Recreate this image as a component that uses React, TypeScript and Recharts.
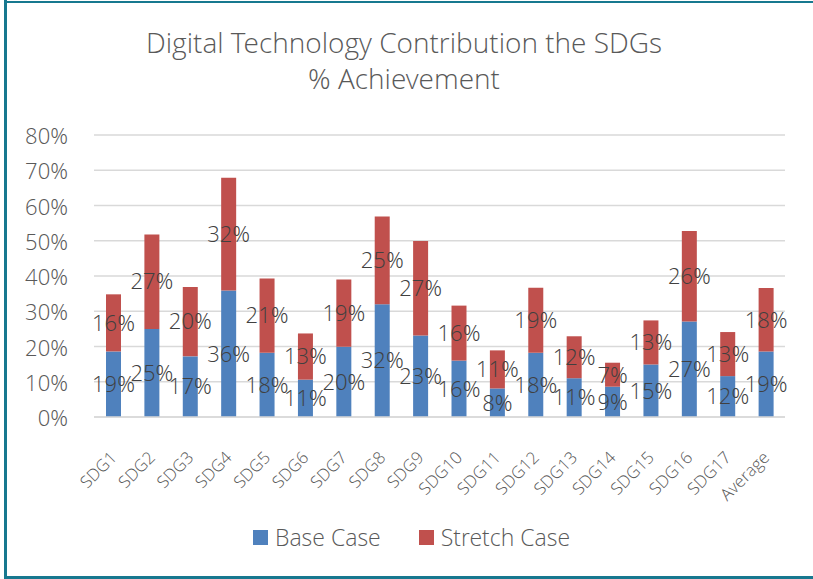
import React from "react";
import {
  BarChart,
  Bar,
  XAxis,
  YAxis,
  CartesianGrid,
  LabelList,
} from "recharts";

// Values, in percent
const categories = [
  "SDG1", "SDG2", "SDG3", "SDG4", "SDG5", "SDG6", "SDG7", "SDG8", "SDG9",
  "SDG10", "SDG11", "SDG12", "SDG13", "SDG14", "SDG15", "SDG16", "SDG17", "Average",
];
const baseCase = [
  18.6, 25.0, 17.2, 35.9, 18.2, 10.6, 19.9, 32.0, 23.1,
  16.0, 8.1, 18.2, 11.0, 8.6, 14.9, 27.1, 11.6, 18.6,
];
const stretchCase = [
  16.2, 26.8, 19.7, 32.0, 21.1, 13.1, 19.1, 24.9, 26.8,
  15.6, 10.8, 18.5, 11.9, 6.8, 12.5, 25.7, 12.5, 18.0,
];
const yTicks = [0, 10, 20, 30, 40, 50, 60, 70, 80];

const data = categories.map((name, i) => ({
  name,
  base: baseCase[i],
  stretch: stretchCase[i],
}));

const BLUE = "#4F81BD";
const RED = "#C0504D";
const BORDER = "#17788f";
const FONT = "'Open Sans Light', 'Open Sans', 'Noto Sans', sans-serif";

const pct = (v: any) => `${Math.round(Number(v))}%`;

function XTick({ x, y, payload }: any) {
  return (
    <text
      x={x}
      y={y + 29}
      transform={`rotate(-45, ${x}, ${y + 29})`}
      textAnchor="end"
      dominantBaseline="central"
      fontSize={17}
      fontWeight={300}
      fill="#595959"
      fontFamily={FONT}
    >
      {payload.value}
    </text>
  );
}

function YTick({ y, payload }: any) {
  return (
    <text
      x={68}
      y={y}
      textAnchor="end"
      dominantBaseline="central"
      fontSize={22}
      fontWeight={300}
      fill="#595959"
      fontFamily={FONT}
    >
      {payload.value}%
    </text>
  );
}

export default function App() {
  const labelStyle = {
    fontSize: 22,
    fontWeight: 300,
    fill: "#404040",
    fontFamily: FONT,
  };

  return (
    <div
      style={{
        position: "absolute",
        left: 0,
        top: 0,
        width: 813,
        height: 579,
        background: "#fff",
        fontFamily: FONT,
        overflow: "hidden",
      }}
    >
      {/* frame */}
      <div style={{ position: "absolute", left: 4, top: 0, width: 3, height: 579, background: BORDER }} />
      <div style={{ position: "absolute", left: 4, top: 1, width: 809, height: 2, background: BORDER }} />
      <div style={{ position: "absolute", left: 4, top: 576, width: 809, height: 3, background: BORDER }} />

      {/* title */}
      <div
        style={{
          position: "absolute",
          left: 0,
          top: 24,
          width: 808,
          textAlign: "center",
          fontSize: 28,
          fontWeight: 300,
          color: "#595959",
          lineHeight: "36px",
        }}
      >
        Digital Technology Contribution the SDGs
        <br />% Achievement
      </div>

      <BarChart
        width={813}
        height={579}
        data={data}
        margin={{ top: 135, right: 28, bottom: 0, left: 0 }}
        barSize={15}
      >
        <CartesianGrid vertical={false} stroke="#d9d9d9" strokeWidth={1.5} />
        <XAxis
          dataKey="name"
          interval={0}
          height={162}
          tickLine={false}
          axisLine={{ stroke: "#d9d9d9", strokeWidth: 1.5 }}
          tick={<XTick />}
        />
        <YAxis
          width={94}
          domain={[0, 80]}
          ticks={yTicks}
          axisLine={false}
          tickLine={false}
          tick={<YTick />}
        />
        <Bar dataKey="base" stackId="a" fill={BLUE} isAnimationActive={false}>
          <LabelList dataKey="base" position="center" formatter={pct} style={labelStyle} />
        </Bar>
        <Bar dataKey="stretch" stackId="a" fill={RED} isAnimationActive={false}>
          <LabelList dataKey="stretch" position="center" formatter={pct} style={labelStyle} />
        </Bar>
      </BarChart>

      {/* legend */}
      <div
        style={{
          position: "absolute",
          left: 253,
          top: 522,
          display: "flex",
          alignItems: "center",
          fontSize: 23,
          fontWeight: 300,
          color: "#595959",
          lineHeight: "30px",
        }}
      >
        <span style={{ width: 15, height: 15, background: BLUE, display: "inline-block", marginRight: 7 }} />
        <span style={{ marginRight: 38 }}>Base Case</span>
        <span style={{ width: 15, height: 15, background: RED, display: "inline-block", marginRight: 7 }} />
        <span>Stretch Case</span>
      </div>
    </div>
  );
}
